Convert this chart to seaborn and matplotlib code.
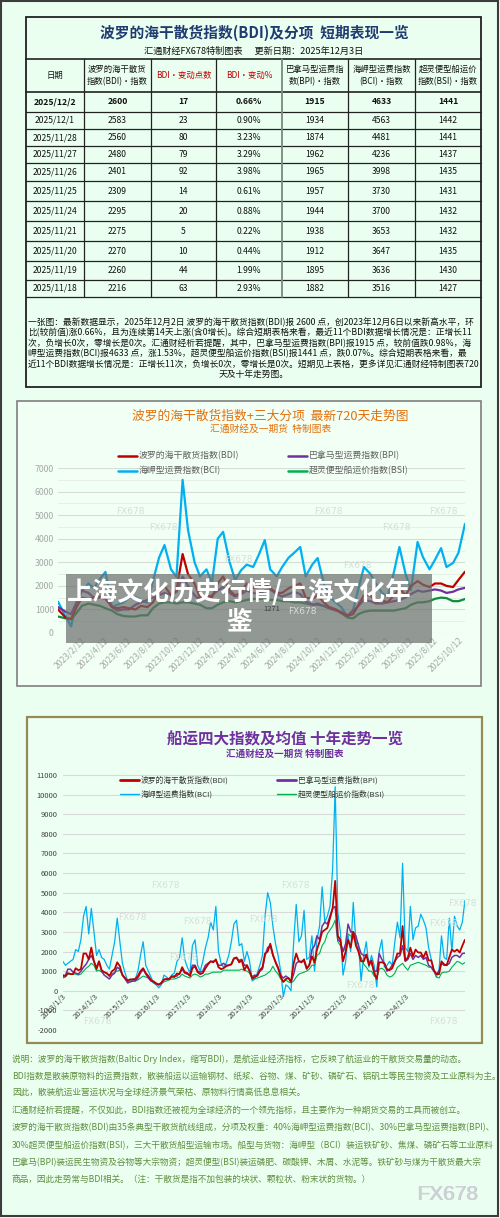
import numpy as np
import pandas as pd
import matplotlib
matplotlib.use('Agg')
import matplotlib.pyplot as plt
from matplotlib.patches import Rectangle
from matplotlib.ticker import MultipleLocator
import seaborn as sns

sns.set_theme(style='white')
plt.rcParams['font.family'] = ['Noto Sans CJK SC', 'DejaVu Sans']
plt.rcParams['axes.unicode_minus'] = False

# --- TABLE DATA ---
table_dates = ['2025/12/2', '2025/12/1', '2025/11/28', '2025/11/27', '2025/11/26', '2025/11/25',
               '2025/11/24', '2025/11/21', '2025/11/20', '2025/11/19', '2025/11/18']
table_bdi = [2600, 2583, 2560, 2480, 2401, 2309, 2295, 2275, 2270, 2260, 2216]
table_chg = [17, 23, 80, 79, 92, 14, 20, 5, 10, 44, 63]
table_pct = ['0.66%', '0.90%', '3.23%', '3.29%', '3.98%', '0.61%', '0.88%', '0.22%', '0.44%', '1.99%', '2.93%']
table_bpi = [1915, 1934, 1874, 1962, 1965, 1957, 1944, 1938, 1912, 1895, 1882]
table_bci = [4633, 4563, 4481, 4236, 3998, 3730, 3700, 3653, 3647, 3636, 3516]
table_bsi = [1441, 1442, 1441, 1437, 1435, 1431, 1432, 1432, 1435, 1430, 1427]
table_headers = ['日期', '波罗的海干散货\n指数(BDI)·指数', 'BDI·变动点数', 'BDI·变动%',
                 '巴拿马型运费指\n数(BPI)·指数', '海岬型运费指数\n(BCI)·指数', '超灵便型船运价\n指数(BSI)·指数']

note_lines = [
    '一张图：最新数据显示，2025年12月2日 波罗的海干散货指数(BDI)报 2600 点，创2023年12月6日以来新高水平，环',
    '比(较前值)涨0.66%，且为连续第14天上涨(含0增长)。综合短期表格来看，最近11个BDI数据增长情况是：正增长11',
    '次，负增长0次，零增长是0次。汇通财经析若提醒，其中，巴拿马型运费指数(BPI)报1915 点，较前值跌0.98%，海',
    '岬型运费指数(BCI)报4633 点，涨1.53%，超灵便型船运价指数(BSI)报1441 点，跌0.07%。综合短期表格来看，最',
    '近11个BDI数据增长情况是：正增长11次，负增长0次，零增长是0次。短期见上表格，更多详见汇通财经特制图表720',
    '天及十年走势图。',
]

# --- CHART 1 DATA (720 days, read roughly twice a month) ---
c1_dates = ([pd.Timestamp('2023-01-12')] + list(pd.date_range('2023-02-01', '2025-11-15', freq='SMS'))
            + [pd.Timestamp('2025-12-02')])
c1_bci = [1330, 700, 280, 1300, 1800, 2100, 1900, 2300, 2590, 1100, 1200, 1300, 1500, 1530, 1400, 1270,
          2200, 3200, 3730, 2700, 2380, 6500, 4370, 3000, 2400, 2700, 2120, 4000, 4290, 3000, 2250, 2670,
          2900, 2800, 3300, 3940, 2700, 2400, 2800, 3200, 3400, 3650, 2400, 2900, 3180, 2100, 1530, 1300,
          1100, 680, 980, 1900, 2800, 2500, 2100, 1700, 1530, 2600, 3650, 2500, 1820, 3860, 3220, 2700,
          3100, 3600, 2800, 2970, 3400, 4633]
c1_bdi = [1000, 650, 600, 1100, 1500, 1450, 1500, 1550, 1500, 1100, 1050, 1100, 1050, 1000, 1150, 1100,
          1300, 1700, 2000, 1600, 1800, 3350, 2500, 2100, 1500, 1600, 1500, 2100, 2400, 1800, 1600, 1700,
          2100, 1900, 1950, 2100, 1900, 1700, 1700, 1900, 2000, 2100, 1500, 1450, 1600, 1300, 1100, 1000,
          850, 730, 800, 1200, 1600, 1600, 1300, 1400, 1300, 1600, 1900, 1600, 2000, 2200, 2050, 1950,
          2100, 2100, 2000, 1950, 2250, 2600]
c1_bpi = [1100, 900, 800, 1300, 1800, 1700, 1500, 1500, 1450, 1100, 950, 1000, 1000, 1200, 1300, 1400,
          1500, 1600, 1700, 1600, 1750, 2400, 2000, 1600, 1400, 1500, 1600, 1800, 1950, 1700, 1550, 1650,
          1800, 1700, 1650, 1800, 1850, 1650, 1550, 1650, 1750, 1650, 1350, 1200, 1250, 1150, 1050, 950,
          900, 750, 950, 1150, 1400, 1350, 1250, 1250, 1300, 1350, 1400, 1500, 1650, 1800, 1750, 1800,
          1850, 1800, 1700, 1750, 1850, 1915]
c1_bsi = [700, 620, 580, 850, 1150, 1250, 1200, 1150, 1050, 950, 800, 720, 700, 700, 750, 750,
          1050, 1250, 1300, 1300, 1250, 1300, 1300, 1250, 1200, 1050, 1050, 1200, 1300, 1350, 1300, 1350,
          1400, 1450, 1450, 1450, 1400, 1400, 1350, 1350, 1300, 1300, 1250, 1200, 1200, 1150, 1050, 1000,
          850, 650, 620, 800, 900, 950, 950, 950, 950, 950, 1000, 1050, 1200, 1300, 1300, 1350,
          1450, 1500, 1480, 1350, 1350, 1441]
c1_ticks = pd.date_range('2023-01-12', '2025-11-12', freq='2MS') + pd.Timedelta(days=11)
c1_labels = ['%d/%d/12' % (d.year, d.month) for d in c1_ticks]

# --- CHART 2 DATA (ten years, monthly reading) ---
c2_dates = pd.date_range('2013-01-01', '2025-12-01', freq='MS')
c2_bdi = [800, 750, 900, 850, 850, 1150, 1050, 1100, 1900, 1900, 1600, 2200,
          1500, 1100, 1500, 1050, 950, 900, 750, 1000, 1100, 1450, 1250, 800,
          650, 520, 580, 580, 600, 750, 1000, 1150, 900, 750, 550, 480,
          380, 320, 400, 580, 600, 600, 720, 700, 880, 850, 1200, 950,
          900, 750, 1150, 1250, 950, 850, 900, 1150, 1350, 1500, 1450, 1600,
          1200, 1100, 1150, 1250, 1300, 1350, 1650, 1700, 1450, 1550, 1050, 1300,
          1000, 620, 700, 780, 1050, 1200, 1900, 2000, 2400, 1850, 1450, 1150,
          700, 450, 600, 650, 450, 1400, 1900, 1500, 1450, 1600, 1150, 1300,
          1750, 1450, 2100, 2500, 3000, 3100, 3200, 3700, 4200, 5600, 2800, 2600,
          1500, 2000, 2600, 2200, 3000, 2300, 2000, 1500, 1500, 1850, 1300, 1550,
          900, 600, 1450, 1450, 1400, 1100, 1050, 1150, 1500, 1900, 1900, 3300,
          1550, 1700, 2200, 1750, 2100, 1950, 1950, 1700, 2000, 1550, 1550, 1050,
          850, 850, 1500, 1350, 1300, 1700, 2100, 2000, 2100, 1950, 2300, 2600]
c2_bci = [1500, 1300, 1400, 1500, 1600, 2100, 2000, 2600, 3800, 4300, 2900, 4200,
          3000, 1800, 2100, 1700, 1600, 1300, 1100, 1800, 2500, 3700, 2500, 1400,
          900, 500, 500, 600, 600, 1000, 1800, 2500, 1300, 1000, 700, 400,
          300, 150, 300, 800, 700, 600, 800, 900, 1500, 1700, 2700, 1600,
          1200, 900, 2300, 2600, 1300, 1000, 1500, 2200, 2700, 3500, 3100, 4300,
          2000, 1400, 1200, 1400, 1800, 2500, 3400, 3600, 2300, 2400, 1500, 2000,
          1500, 500, 600, 900, 1300, 1800, 3800, 5000, 4500, 3300, 2400, 1800,
          1000, -300, 300, 200, 0, 2500, 4400, 2500, 2800, 4100, 1600, 1700,
          2800, 1000, 2600, 3300, 5300, 3500, 3800, 4300, 6200, 10400, 4000, 3000,
          800, 1500, 2800, 2000, 4500, 2500, 2400, 500, 1800, 2500, 1200, 1800,
          1300, 200, 2000, 2600, 1200, 1300, 1500, 1300, 2500, 3500, 2700, 6500,
          2200, 2000, 4300, 2600, 3200, 3300, 3900, 3600, 3200, 2200, 1600, 1100,
          700, 1100, 2800, 1700, 1600, 3700, 2000, 3800, 3300, 3100, 3500, 4600]
c2_bpi = [700, 800, 1100, 1100, 950, 900, 850, 1000, 1200, 1350, 1600, 1800,
          1500, 1200, 1500, 1000, 800, 700, 600, 800, 900, 1200, 1100, 800,
          600, 400, 450, 500, 500, 650, 900, 1100, 850, 650, 500, 450,
          350, 300, 400, 550, 600, 600, 750, 750, 750, 900, 1100, 900,
          850, 800, 1300, 1300, 1000, 950, 1000, 1300, 1400, 1500, 1500, 1550,
          1300, 1300, 1400, 1300, 1300, 1350, 1650, 1650, 1550, 1600, 1300, 1300,
          1000, 700, 800, 750, 1000, 1100, 1800, 2200, 2300, 1800, 1500, 1200,
          800, 650, 750, 650, 450, 850, 1400, 1500, 1500, 1500, 1100, 1300,
          2100, 2300, 2800, 2600, 3300, 3500, 3400, 3800, 4200, 4300, 2600, 2500,
          2000, 2400, 3400, 3000, 3000, 2800, 2300, 1900, 1800, 1800, 1500, 1400,
          1000, 1000, 1900, 1600, 1400, 1000, 1100, 1300, 1500, 1700, 1800, 2300,
          1500, 1600, 1900, 1600, 1800, 1700, 1800, 1600, 1700, 1300, 1200, 1000,
          850, 1000, 1400, 1300, 1300, 1400, 1700, 1800, 1800, 1700, 1900, 1915]
c2_bsi = [650, 700, 850, 850, 850, 850, 800, 850, 1000, 1150, 1250, 1400,
          1300, 1000, 1050, 950, 950, 850, 800, 850, 950, 1000, 1050, 850,
          650, 480, 500, 480, 500, 550, 650, 750, 700, 650, 500, 400,
          350, 300, 350, 450, 500, 550, 600, 600, 650, 700, 850, 750,
          700, 650, 800, 850, 800, 700, 750, 850, 850, 900, 950, 950,
          950, 950, 1050, 1050, 1050, 1050, 1050, 1050, 1050, 1100, 1050, 1000,
          900, 600, 600, 650, 700, 750, 800, 900, 1000, 1250, 1000, 850,
          600, 450, 550, 450, 400, 500, 700, 850, 900, 950, 1000, 1100,
          1300, 1300, 1800, 1900, 2300, 2500, 2900, 3100, 3300, 3600, 2500, 2300,
          2000, 2200, 2900, 2800, 2700, 2500, 2000, 1700, 1350, 1200, 1000, 1000,
          750, 650, 1100, 1150, 1050, 800, 700, 750, 900, 1200, 1300, 1400,
          1200, 1050, 1300, 1350, 1400, 1450, 1400, 1350, 1300, 1200, 1200, 1000,
          700, 650, 900, 950, 950, 1000, 1200, 1350, 1500, 1450, 1350, 1441]
c2_ticks = pd.date_range('2013-01-03', '2025-01-03', freq='12MS') + pd.Timedelta(days=2)
c2_labels = ['%d/1/3' % d.year for d in c2_ticks]

names = {'BDI': '波罗的海干散货指数(BDI)', 'BPI': '巴拿马型运费指数(BPI)',
         'BCI': '海岬型运费指数(BCI)', 'BSI': '超灵便型船运价指数(BSI)'}

BG = '#ebfff1'
W, H = 500, 1218
fig = plt.figure(figsize=(5, 12.18), dpi=100)
fig.patch.set_facecolor(BG)


def px_axes(l, t, r, b, z):
    a = fig.add_axes([l / W, 1 - b / H, (r - l) / W, (b - t) / H])
    a.set_zorder(z)
    return a


bg = fig.add_axes([0, 0, 1, 1])
bg.set_xlim(0, W)
bg.set_ylim(H, 0)
bg.axis('off')
bg.add_patch(Rectangle((1, 1), W - 3, H - 3, fill=False, ec='#3c3c3c', lw=1.5))

# --- TABLE ---
cols = [26, 84, 151, 216, 282, 348, 415, 481]
rows = [92, 112, 129, 146, 163, 181, 201, 221, 241, 261, 280, 297]
bg.add_patch(Rectangle((26, 17), 455, 370, fc=BG, ec='#222222', lw=1.3, zorder=3))
head_fc = ['#c4f7d4', '#8dfcb6', '#8dfcb6', '#8dfcb6', '#e2fcea', '#e2fcea', '#e2fcea']
for i in range(7):
    bg.add_patch(Rectangle((cols[i], 59), cols[i + 1] - cols[i], 33, fc=head_fc[i], ec='none', zorder=1))
    color = '#c00000' if i in (2, 3) else '#111111'
    bg.text((cols[i] + cols[i + 1]) / 2, 75.5, table_headers[i], ha='center', va='center',
            fontsize=6.0, color=color, linespacing=1.35, zorder=4)
bg.text(254, 33, '波罗的海干散货指数(BDI)及分项  短期表现一览', ha='center', va='center',
        fontsize=10.6, fontweight='bold', color='#1f3b70', zorder=4)
bg.text(254, 51, '汇通财经FX678特制图表      更新日期：2025年12月3日', ha='center', va='center',
        fontsize=6.6, color='#111111', zorder=4)
for y in [59] + rows:
    bg.plot([26, 481], [y, y], color='#222222', lw=0.9 if y not in (59, 92) else 1.2, zorder=3)
for x in cols[1:-1]:
    bg.plot([x, x], [59, 297], color='#222222' if x != 282 else '#7a8a7a', lw=0.9 if x != 282 else 1.3, zorder=3)
cells = list(zip(table_dates, table_bdi, table_chg, table_pct, table_bpi, table_bci, table_bsi))
for r, row in enumerate(cells):
    yc = (rows[r] + rows[r + 1]) / 2
    for i, val in enumerate(row):
        bg.text((cols[i] + cols[i + 1]) / 2, yc, str(val), ha='center', va='center', fontsize=6.2,
                color='#111111', fontweight='bold' if r == 0 else 'normal', zorder=4)
note_y = [322, 332.7, 343.2, 353.4, 363.8, 374.2]
for k, line in enumerate(note_lines):
    if k < 5:
        bg.text(28, note_y[k], line, ha='left', va='center', fontsize=6.3, color='#111111', zorder=4)
    else:
        bg.text(254, note_y[k], line, ha='center', va='center', fontsize=6.3, color='#111111', zorder=4)

# --- CHART 1 BOX ---
bg.add_patch(Rectangle((17, 401), 464, 285, fc='#f1fff5', ec='#7f7f7f', lw=1.2, zorder=1))
bg.text(270, 416, '波罗的海干散货指数+三大分项  最新720天走势图', ha='center', va='center',
        fontsize=9.2, color='#e4700c', zorder=4)
bg.text(271, 429, '汇通财经及一期货  特制图表', ha='center', va='center', fontsize=7, color='#e4700c', zorder=4)

# --- CHART 2 BOX ---
bg.add_patch(Rectangle((27, 717), 455, 326, fc='#edfff3', ec='#948a54', lw=1.6, zorder=1))
bg.text(285, 739, '船运四大指数及均值 十年走势一览', ha='center', va='center', fontsize=11.2,
        fontweight='bold', color='#7030a0', zorder=4)
bg.text(285, 754, '汇通财经及一期货 特制图表', ha='center', va='center', fontsize=6.9,
        fontweight='bold', color='#7030a0', zorder=4)

# --- CHART 1 ---
ax1 = px_axes(58, 468, 465, 633, 2)
ax1.set_facecolor('none')
c1_colors = {'BCI': '#00b0f0', 'BSI': '#0f8c3c', 'BPI': '#7030a0', 'BDI': '#c00000'}
for key, vals in [('BCI', c1_bci), ('BSI', c1_bsi), ('BPI', c1_bpi), ('BDI', c1_bdi)]:
    sns.lineplot(x=c1_dates, y=vals, ax=ax1, color=c1_colors[key], lw=1.6)
ax1.set_xlim(pd.Timestamp('2023-01-12'), pd.Timestamp('2025-12-02'))
ax1.set_ylim(0, 7000)
ax1.yaxis.set_major_locator(MultipleLocator(1000))
ax1.yaxis.set_minor_locator(MultipleLocator(500))
ax1.grid(True, which='major', axis='y', color='#d6dcd6', lw=0.8)
ax1.grid(True, which='minor', axis='y', color='#e4ebe4', lw=0.6)
ax1.set_axisbelow(True)
ax1.set_xticks(c1_ticks)
ax1.set_xticklabels(c1_labels)
ax1.tick_params(axis='x', labelrotation=45, labelsize=6.2, labelcolor='#a8a8a8', length=0, pad=2)
ax1.tick_params(axis='y', labelsize=6.3, labelcolor='#a8a8a8', length=0, pad=3)
for s in ax1.spines.values():
    s.set_visible(False)
ax1.set_xlabel('')
ax1.set_ylabel('')

# --- CHART 2 ---
ax2 = px_axes(63, 775, 465, 1030, 2)
ax2.set_facecolor('none')
c2_colors = {'BCI': '#00b0f0', 'BSI': '#00b050', 'BPI': '#7030a0', 'BDI': '#c00000'}
c2_lw = {'BCI': 0.9, 'BSI': 0.8, 'BPI': 1.1, 'BDI': 1.3}
for key, vals in [('BCI', c2_bci), ('BSI', c2_bsi), ('BPI', c2_bpi), ('BDI', c2_bdi)]:
    sns.lineplot(x=c2_dates, y=vals, ax=ax2, color=c2_colors[key], lw=c2_lw[key])
ax2.set_xlim(pd.Timestamp('2013-01-03'), pd.Timestamp('2025-12-02'))
ax2.set_ylim(-2000, 11000)
ax2.yaxis.set_major_locator(MultipleLocator(1000))
ax2.grid(True, which='major', axis='y', color='#d9d9d9', lw=0.8)
ax2.set_axisbelow(True)
ax2.spines['bottom'].set_position(('data', 0))
for s in ax2.spines.values():
    s.set_color('none')
ax2.set_xticks(c2_ticks)
ax2.set_xticklabels(c2_labels, rotation=45, ha='right', va='center', rotation_mode='anchor')
ax2.tick_params(axis='x', labelsize=5.6, labelcolor='#404040', length=0, pad=3)
ax2.tick_params(axis='y', labelsize=5.4, labelcolor='#404040', length=0, pad=4)
ax2.set_xlabel('')
ax2.set_ylabel('')

# --- TOP LAYER: legends, watermarks, overlay ---
top = fig.add_axes([0, 0, 1, 1])
top.set_zorder(5)
top.set_xlim(0, W)
top.set_ylim(H, 0)
top.axis('off')

leg1 = [(118, 456, 'BDI'), (288, 456, 'BPI'), (118, 471, 'BCI'), (288, 471, 'BSI')]
for x, y, key in leg1:
    top.plot([x, x + 19], [y, y], color=c1_colors[key] if key != 'BSI' else '#00b050', lw=1.8)
    top.text(x + 21, y, names[key], ha='left', va='center', fontsize=6.4, color='#606060')

leg2 = [(120, 780, 'BDI'), (277, 780, 'BPI'), (120, 794, 'BCI'), (277, 794, 'BSI')]
for x, y, key in leg2:
    top.plot([x, x + 19], [y, y], color=c2_colors[key], lw=2.0 if key in ('BDI', 'BPI') else 1.0)
    top.text(x + 21, y, names[key], ha='left', va='center', fontsize=5.6, color='#333333')

wm = dict(ha='center', va='center', color='#d8ddd8', fontsize=6.5, family='DejaVu Sans')
for x, y in [(130, 511), (328, 511), (443, 511), (163, 527), (396, 527), (238, 560), (357, 566), (302, 612)]:
    top.text(x, y, 'FX678', **wm)
for x, y in [(165, 885), (295, 885), (132, 917), (197, 922), (263, 919), (462, 903), (443, 923),
             (360, 986), (97, 1021), (443, 1021), (183, 957)]:
    top.text(x, y, 'FX678', **wm)

top.add_patch(Rectangle((66, 574), 366, 69, fc='#6d706d', ec='none', alpha=0.72))
top.text(239, 592, '上海文化历史行情/上海文化年', ha='center', va='center', fontsize=18.5,
         fontweight='bold', color='white')
top.text(239, 622, '鉴', ha='center', va='center', fontsize=18.5, fontweight='bold', color='white')
top.text(272, 609, '1271', ha='center', va='center', fontsize=5.5, color='#404040')

desc_lines = [
    '说明：波罗的海干散货指数(Baltic Dry Index，缩写BDI)，是航运业经济指标，它反映了航运业的干散货交易量的动态。',
    'BDI指数是散装原物料的运费指数，散装船运以运输钢材、纸浆、谷物、煤、矿砂、磷矿石、铝矾土等民生物资及工业原料为主。',
    '因此，散装航运业营运状况与全球经济景气荣枯、原物料行情高低息息相关。',
    '汇通财经析若提醒，不仅如此，BDI指数还被视为全球经济的一个领先指标，且主要作为一种期货交易的工具而被创立。',
    '波罗的海干散货指数(BDI)由35条典型干散货航线组成，分项及权重：40%海岬型运费指数(BCI)、30%巴拿马型运费指数(BPI)、',
    '30%超灵便型船运价指数(BSI)，三大干散货船型运输市场。船型与货物：海岬型（BCI）装运铁矿砂、焦煤、磷矿石等工业原料',
    '巴拿马(BPI)装运民生物资及谷物等大宗物资；超灵便型(BSI)装运磷肥、碳酸钾、木屑、水泥等。铁矿砂与煤为干散货最大宗',
    '商品，因此走势常与BDI相关。（注：干散货是指不加包装的块状、颗粒状、粉末状的货物。）',
]
desc_y = [1059, 1076, 1093, 1111, 1128, 1146, 1163, 1179]
for y, line in zip(desc_y, desc_lines):
    top.text(12, y, line, ha='left', va='center', fontsize=6.25, color='#5e8f3e', clip_on=True)

top.text(448, 1195, 'FX678', ha='center', va='center', fontsize=15, color='#9a9aa6',
         family='Liberation Sans', alpha=0.5)
top.text(447, 1194, 'FX678', ha='center', va='center', fontsize=15, color='#cfd0d8', family='Liberation Sans')

fig.savefig('out.png', dpi=100, facecolor=BG)
